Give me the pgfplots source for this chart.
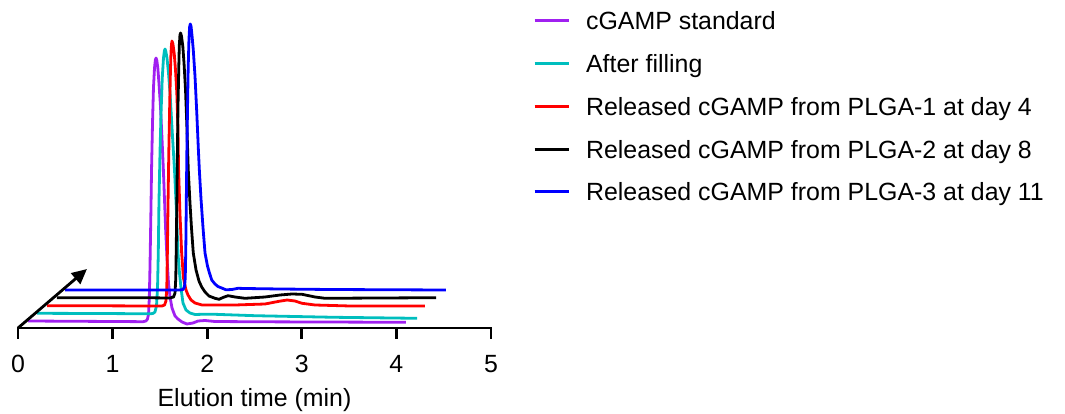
\documentclass[border=0pt]{standalone}
\usepackage{fontspec}
\setmainfont{Liberation Sans}
\usepackage{pgfplots}
\pgfplotsset{compat=1.18}
\usetikzlibrary{arrows.meta}
\definecolor{cpurple}{RGB}{160,32,240}
\definecolor{ccyan}{RGB}{0,190,190}
\begin{document}
\begin{tikzpicture}
\begin{axis}[
  at={(-4.73bp,-10.5bp)}, anchor=south west,
  scale only axis, width=482.46bp, height=338.5bp,
  xmin=-0.05, xmax=5.05, ymin=-10.5, ymax=328,
  axis x line*=bottom, hide y axis,
  x axis line style={draw=none},
  xtick={0,1,2,3,4,5},
  xtick pos=bottom,
  major tick length=0pt,
  xtick style={draw=none},
  /pgf/number format/assume math mode=true,
  xticklabel style={font=\fontsize{25}{30}\selectfont, anchor=base, yshift=-33.5bp},
  xlabel={Elution time (min)},
  xlabel style={font=\fontsize{25}{30}\selectfont, at={(axis description cs:0.5,0)}, anchor=base, yshift=-67.5bp},
  clip=false,
  legend cell align=left,
  legend style={at={(1.0775,0.9646)}, anchor=north west, draw=none, fill=none,
    inner sep=0pt, outer sep=0pt, row sep=24.75bp, column sep=16bp,
    font=\fontsize{25}{30}\selectfont,
    nodes={inner sep=0pt, text height=18bp, text depth=0bp}},
  legend image code/.code={\draw[#1, line width=3bp] (0bp,0bp) -- (34bp,0bp);},
  every axis plot/.append style={line width=2.8bp, line join=round},
]
\addplot[cpurple] coordinates {
(0.106,7) (0.655,6.7) (1.184,6.4) (1.321,6.3) (1.353,7) (1.369,9) (1.380,14) (1.388,30)
(1.395,60) (1.404,110) (1.412,160) (1.422,205) (1.432,240) (1.443,260) (1.452,268) (1.459,270)
(1.467,268) (1.478,260) (1.490,245) (1.506,222) (1.522,190) (1.536,160) (1.548,130) (1.561,98)
(1.575,70) (1.591,45) (1.607,31) (1.628,20) (1.660,12) (1.691,9) (1.734,6) (1.786,4)
(1.850,5) (1.903,7) (1.977,7.5) (2.082,6.5) (2.558,6.2) (3.192,6) (4.101,5.7)};
\addlegendentry{cGAMP standard}
\addplot[ccyan] coordinates {
(0.201,14.7) (0.867,14.5) (1.395,14.2) (1.427,14.5) (1.448,16) (1.464,22) (1.475,40) (1.483,75)
(1.490,125) (1.501,175) (1.512,215) (1.525,250) (1.538,270) (1.547,277) (1.554,279) (1.562,277)
(1.575,270) (1.591,255) (1.607,235) (1.628,200) (1.655,157) (1.676,115) (1.691,75) (1.707,55)
(1.723,40) (1.744,25) (1.776,18) (1.818,15) (1.871,13.5) (1.977,13.8) (2.082,13.7) (2.505,12.3)
(3.351,10.7) (4.218,9.7)};
\addlegendentry{After filling}
\addplot[red] coordinates {
(0.307,22.3) (0.867,22.2) (1.395,22) (1.522,22) (1.549,23) (1.564,27) (1.573,40) (1.579,75)
(1.586,125) (1.594,175) (1.603,220) (1.611,255) (1.617,275) (1.623,284) (1.628,287) (1.638,284)
(1.652,274) (1.665,258) (1.679,235) (1.691,200) (1.697,160) (1.712,115) (1.730,75) (1.749,50)
(1.776,38) (1.797,33) (1.829,28) (1.871,25) (1.945,23) (2.082,23) (2.294,23) (2.611,24)
(2.748,26.5) (2.844,28) (2.928,27) (3.002,24.7) (3.140,23) (3.510,22) (4.302,22)};
\addlegendentry{Released cGAMP from PLGA-1 at day 4}
\addplot[black] coordinates {
(0.412,30.3) (0.867,30.3) (1.395,30.2) (1.607,30) (1.644,31) (1.660,35) (1.668,50) (1.673,80)
(1.679,125) (1.685,175) (1.691,220) (1.699,258) (1.705,282) (1.712,293) (1.719,295) (1.728,292)
(1.742,282) (1.755,265) (1.771,238) (1.786,200) (1.800,158) (1.818,125) (1.834,100) (1.853,75)
(1.882,58) (1.913,47) (1.942,41) (1.977,36) (2.019,32) (2.082,29.7) (2.125,28.7) (2.167,30.5)
(2.220,32.3) (2.294,31) (2.400,29.7) (2.611,31) (2.770,33) (2.896,34) (3.002,33.7) (3.140,31)
(3.245,29.7) (3.827,30) (4.419,30.3)};
\addlegendentry{Released cGAMP from PLGA-2 at day 8}
\addplot[blue] coordinates {
(0.497,38) (0.867,38) (1.395,38) (1.712,38) (1.744,38.5) (1.760,41) (1.768,50) (1.774,80)
(1.779,125) (1.785,175) (1.792,220) (1.799,260) (1.807,288) (1.814,301) (1.821,304) (1.829,302)
(1.839,293) (1.853,278) (1.871,252) (1.890,215) (1.906,180) (1.917,158) (1.934,130) (1.956,100)
(1.977,75) (2.003,62) (2.024,55) (2.048,48) (2.082,44) (2.114,41.5) (2.153,40) (2.199,38.2)
(2.262,38.5) (2.326,39.7) (2.400,39.5) (2.770,39) (3.298,38.5) (4.524,38)};
\addlegendentry{Released cGAMP from PLGA-3 at day 11}
\addplot[black, forget plot] coordinates {(0,0) (0,-10.5)};
\addplot[black, forget plot] coordinates {(1,0) (1,-10.5)};
\addplot[black, forget plot] coordinates {(2,0) (2,-10.5)};
\addplot[black, forget plot] coordinates {(3,0) (3,-10.5)};
\addplot[black, forget plot] coordinates {(4,0) (4,-10.5)};
\addplot[black, forget plot] coordinates {(5,0) (5,-10.5)};
\draw[line width=2.8bp, line cap=rect] (axis cs:0,0) -- (axis cs:5,0);
\draw[line width=2.8bp, -{Triangle[length=15bp,width=14bp]}] (axis cs:0,0) -- (axis cs:0.729,59);
\end{axis}
\pgfresetboundingbox
\useasboundingbox (-18bp,-86bp) rectangle (1047bp,328bp);
\end{tikzpicture}
\end{document}
